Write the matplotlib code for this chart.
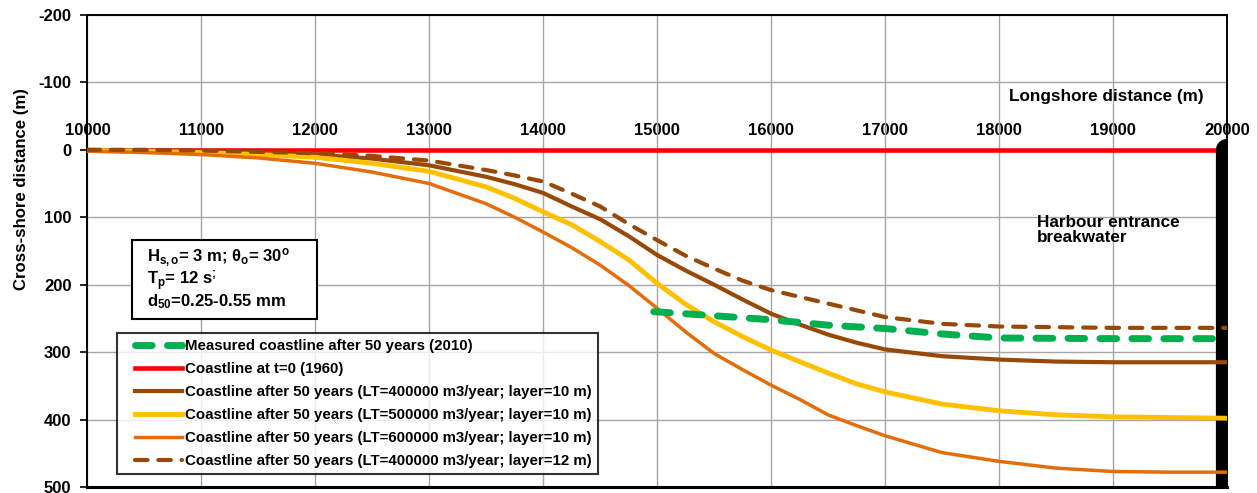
import matplotlib

matplotlib.use("Agg")

import matplotlib.pyplot as plt
from matplotlib.lines import Line2D
from matplotlib.legend_handler import HandlerLine2D
from matplotlib.patches import Rectangle

plt.rcParams["font.family"] = ["Liberation Sans", "DejaVu Sans"]
plt.rcParams["font.weight"] = "bold"
plt.rcParams["axes.unicode_minus"] = False
plt.rcParams["mathtext.fontset"] = "custom"
plt.rcParams["mathtext.rm"] = "Liberation Sans:bold"
plt.rcParams["mathtext.it"] = "Liberation Sans:bold"
plt.rcParams["mathtext.bf"] = "Liberation Sans:bold"
plt.rcParams["mathtext.default"] = "bf"

# longshore positions (m)
x_model = [10000, 10500, 11000, 11500, 12000, 12500, 13000, 13500, 13750, 14000,
           14250, 14500, 14750, 15000, 15250, 15500, 15750, 16000, 16250, 16500,
           16750, 17000, 17500, 18000, 18500, 19000, 19500, 20000]
# cross-shore positions (m) after 50 years
y_lt400_l10 = [0, 1, 2, 4, 7, 13, 23, 40, 51, 64,
               84, 103, 128, 156, 179, 200, 222, 243, 259, 274,
               286, 296, 306, 311, 314, 315, 315, 315]
y_lt500_l10 = [1, 2, 4, 7, 11, 20, 32, 55, 72, 92,
               111, 136, 163, 198, 229, 255, 277, 297, 314, 331,
               347, 359, 377, 387, 393, 396, 397, 398]
y_lt600_l10 = [2, 4, 7, 12, 20, 33, 50, 80, 100, 122,
               145, 171, 201, 235, 270, 302, 326, 349, 370, 393,
               409, 424, 449, 462, 472, 477, 478, 478]
y_lt400_l12 = [0, 0, 1, 3, 5, 9, 16, 30, 38, 47,
               65, 84, 110, 134, 157, 176, 194, 208, 218, 228,
               238, 248, 258, 262, 263, 264, 264, 264]

x_measured = [14970, 15500, 16000, 16500, 17000, 17500, 18000, 19000, 20000]
y_measured = [240, 246, 252, 260, 265, 273, 279, 280, 280]

x_initial = [10000, 20000]
y_initial = [0, 0]

x_breakwater = [20000, 20000]
y_breakwater = [0, 560]

labels = [
    "Measured coastline after 50 years (2010)",
    "Coastline at t=0 (1960)",
    "Coastline after 50 years (LT=400000 m3/year; layer=10 m)",
    "Coastline after 50 years (LT=500000 m3/year; layer=10 m)",
    "Coastline after 50 years (LT=600000 m3/year; layer=10 m)",
    "Coastline after 50 years (LT=400000 m3/year; layer=12 m)",
]

x_ticks = list(range(10000, 20001, 1000))
y_ticks = list(range(-200, 501, 100))

fig = plt.figure(figsize=(12.57, 4.93), dpi=100)
ax = fig.add_axes([0.0696, 0.0122, 0.9064, 0.9574])

ax.set_xlim(10000, 20000)
ax.set_ylim(500, -200)

ax.plot(x_initial, y_initial, color="#FF0000", lw=3.3, zorder=3)
ax.plot(x_breakwater, y_breakwater, color="black", lw=16, solid_capstyle="round", zorder=4)
ax.plot(x_model, y_lt400_l10, color="#984807", lw=3.0, zorder=5)
ax.plot(x_model, y_lt500_l10, color="#FFC000", lw=3.5, zorder=5)
ax.plot(x_model, y_lt600_l10, color="#E46C0A", lw=2.5, zorder=5)
ax.plot(x_model, y_lt400_l12, color="#984807", lw=3.0, dashes=(3, 2.6),
        dash_capstyle="round", zorder=5)
ax.plot(x_measured, y_measured, color="#00B050", lw=5.0, dashes=(2.4, 2.2),
        dash_capstyle="round", zorder=5)

ax.set_xticks(x_ticks)
ax.set_yticks(y_ticks)
ax.grid(True, color="#A6A6A6", lw=1.0)
ax.set_axisbelow(True)
ax.tick_params(axis="x", bottom=False, labelbottom=False)
ax.tick_params(axis="y", length=5, width=1.2, pad=6.5, labelsize=12)
for side in ["left", "top", "right"]:
    ax.spines[side].set_linewidth(1.4)
ax.spines["bottom"].set_linewidth(2.2)

# longshore labels sit on the y=0 line
frac0 = (0 - 500) / (-200 - 500)
sec = ax.secondary_xaxis(frac0)
sec.set_xticks(x_ticks)
sec.spines["top"].set_visible(False)
sec.spines["bottom"].set_visible(False)
sec.tick_params(length=0, pad=8.5, labelsize=12)

ax.set_ylabel("Cross-shore distance (m)", fontsize=12.1, fontweight="bold")
ax.yaxis.set_label_coords(-0.051, 0.632)

ax.text(19800, -79, "Longshore distance (m)", ha="right", va="center",
        fontsize=12.3, fontweight="bold")
ax.text(18330, 119, "Harbour entrance\nbreakwater", ha="left", va="center",
        fontsize=12.3, fontweight="bold", linespacing=1.05)

# wave / sediment info box
ax.add_patch(Rectangle((0.0395, 0.356), 0.1623, 0.167, transform=ax.transAxes,
                       fc="white", ec="black", lw=1.5, zorder=6))
ax.text(0.0526, 0.442,
        "H$_{s,o}$= 3 m; θ$_o$= 30$^o$\nT$_p$= 12 s$^;$\nd$_{50}$=0.25-0.55 mm",
        transform=ax.transAxes, ha="left", va="center", fontsize=12, fontweight="bold",
        linespacing=0.95, zorder=7)

handles = [
    Line2D([], [], color="#00B050", lw=5.0, dashes=(2.4, 2.2), dash_capstyle="round"),
    Line2D([], [], color="#FF0000", lw=3.3),
    Line2D([], [], color="#984807", lw=3.0),
    Line2D([], [], color="#FFC000", lw=3.5),
    Line2D([], [], color="#E46C0A", lw=2.5),
    Line2D([], [], color="#984807", lw=3.0, dashes=(3, 2.6), dash_capstyle="round"),
]
leg = ax.legend(handles, labels, loc="lower left", bbox_to_anchor=(0.026, 0.0275),
                borderaxespad=0, frameon=True, fancybox=False,
                handlelength=3.95, handletextpad=0.2, labelspacing=0.6,
                borderpad=0.4, prop={"weight": "bold", "size": 10.8},
                handler_map={Line2D: HandlerLine2D(xpad=0.8)})
leg.get_frame().set_edgecolor("black")
leg.get_frame().set_linewidth(1.5)
leg.set_zorder(8)

fig.savefig("out.png", dpi=100)
plt.close(fig)
